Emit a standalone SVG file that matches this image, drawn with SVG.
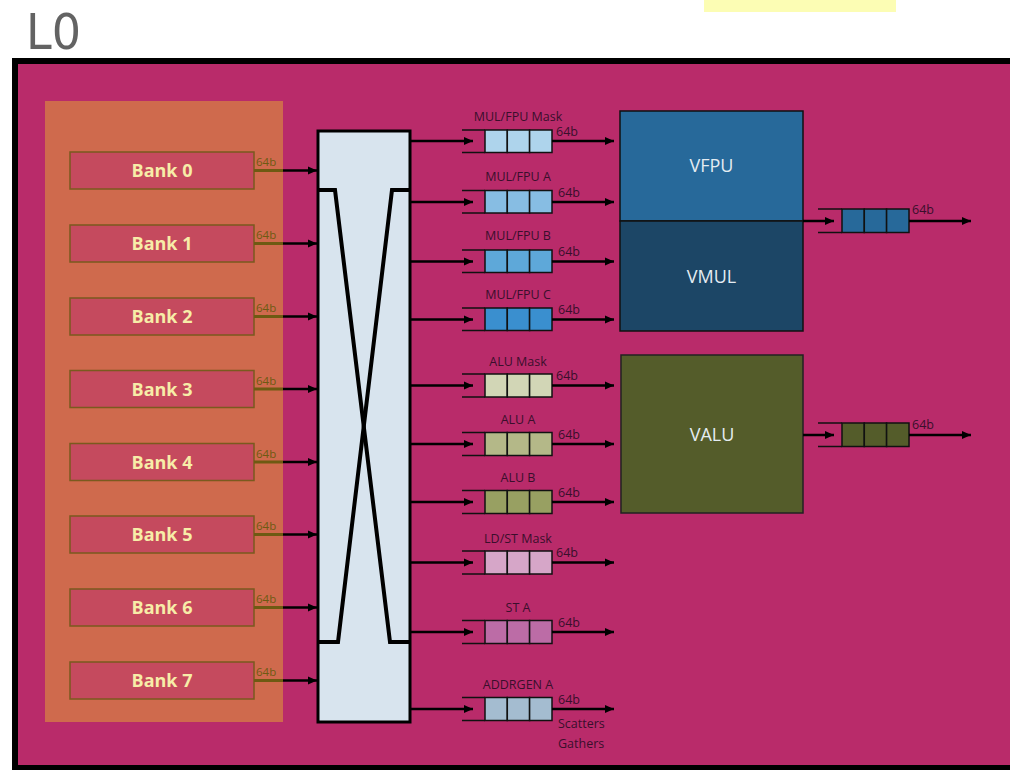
<svg xmlns="http://www.w3.org/2000/svg" width="1010" height="770" viewBox="0 0 1010 770">
<style>
.bank rect{fill:#C54A5E;stroke:#7A5A1E;stroke-width:1.5}
.bank text{font-family:"Open Sans","Liberation Sans",sans-serif;font-weight:bold;font-size:18px;fill:#F7EDA8;text-anchor:middle}
.b64{font-family:"Open Sans","Liberation Sans",sans-serif;font-size:11.5px;fill:#6E5A12}
.ql{font-family:"Open Sans","Liberation Sans",sans-serif;font-size:12.5px;fill:#3A0F2C;text-anchor:middle}
.q64{font-family:"Open Sans","Liberation Sans",sans-serif;font-size:12.5px;fill:#3A0F2C}
.cell{stroke:#111;stroke-width:1.5}
.arr{stroke:#000;stroke-width:2.5;fill:none;marker-end:url(#ah)}
.thin{stroke:#111;stroke-width:1.5;fill:none}
.unit text{font-family:"Open Sans","Liberation Sans",sans-serif;font-size:18px;fill:#E4ECF2;text-anchor:middle}
</style>
<defs>
<marker id="ah" markerUnits="userSpaceOnUse" markerWidth="10" markerHeight="10" refX="9" refY="5" orient="auto">
<path d="M0,1 L9,5 L0,9 z" fill="#000"/>
</marker>
</defs>
<rect x="0" y="0" width="1010" height="770" fill="#fff"/>
<rect x="704" y="0" width="192" height="12" fill="#FCFDB4"/>
<text x="26" y="49" font-family="DejaVu Sans, Open Sans, sans-serif" font-size="50" fill="#636363" textLength="55" lengthAdjust="spacingAndGlyphs">L0</text>
<rect x="15" y="61" width="1000" height="707" fill="#B92B6A" stroke="#000" stroke-width="6"/>
<rect id="bankpanel" x="45" y="101" width="238" height="621" fill="#CF6A4D"/>

<g id="bank0" class="bank"><rect x="70" y="152" width="184" height="37"/><text x="162" y="177">Bank 0</text></g>
<g id="bank1" class="bank"><rect x="70" y="225" width="184" height="37"/><text x="162" y="250">Bank 1</text></g>
<g id="bank2" class="bank"><rect x="70" y="298" width="184" height="37"/><text x="162" y="323">Bank 2</text></g>
<g id="bank3" class="bank"><rect x="70" y="370.5" width="184" height="37"/><text x="162" y="395.5">Bank 3</text></g>
<g id="bank4" class="bank"><rect x="70" y="443.5" width="184" height="37"/><text x="162" y="468.5">Bank 4</text></g>
<g id="bank5" class="bank"><rect x="70" y="516" width="184" height="37"/><text x="162" y="541">Bank 5</text></g>
<g id="bank6" class="bank"><rect x="70" y="589" width="184" height="37"/><text x="162" y="614">Bank 6</text></g>
<g id="bank7" class="bank"><rect x="70" y="662" width="184" height="37"/><text x="162" y="687">Bank 7</text></g>

<g id="crossbar">
<rect x="318" y="131" width="92" height="591" fill="#D8E4EE" stroke="#000" stroke-width="3"/>
<polyline points="318,190 335,190 390,642 410,642" fill="none" stroke="#000" stroke-width="4"/>
<polyline points="410,190 392,190 338,642 318,642" fill="none" stroke="#000" stroke-width="4"/>
</g>

<g id="q0">
<text class="ql" x="518" y="121">MUL/FPU Mask</text>
<path class="thin" d="M462,130 H485 M462,152.5 H485"/>
<rect class="cell" x="485" y="130" width="22.3" height="22.5" fill="#AED4EC"/><rect class="cell" x="507.3" y="130" width="22.3" height="22.5" fill="#AED4EC"/><rect class="cell" x="529.6" y="130" width="22.4" height="22.5" fill="#AED4EC"/>
<text class="q64" x="556" y="136">64b</text>
</g>
<g id="q1">
<text class="ql" x="518" y="181">MUL/FPU A</text>
<path class="thin" d="M462,190.5 H485 M462,213 H485"/>
<rect class="cell" x="485" y="190.5" width="22.3" height="22.5" fill="#87BDE3"/><rect class="cell" x="507.3" y="190.5" width="22.3" height="22.5" fill="#87BDE3"/><rect class="cell" x="529.6" y="190.5" width="22.4" height="22.5" fill="#87BDE3"/>
<text class="q64" x="558" y="197">64b</text>
</g>
<g id="q2">
<text class="ql" x="518" y="240">MUL/FPU B</text>
<path class="thin" d="M462,250 H485 M462,272.5 H485"/>
<rect class="cell" x="485" y="250" width="22.3" height="22.5" fill="#5EA8D9"/><rect class="cell" x="507.3" y="250" width="22.3" height="22.5" fill="#5EA8D9"/><rect class="cell" x="529.6" y="250" width="22.4" height="22.5" fill="#5EA8D9"/>
<text class="q64" x="558" y="256">64b</text>
</g>
<g id="q3">
<text class="ql" x="518" y="299">MUL/FPU C</text>
<path class="thin" d="M462,308 H485 M462,330.5 H485"/>
<rect class="cell" x="485" y="308" width="22.3" height="22.5" fill="#3A8FCF"/><rect class="cell" x="507.3" y="308" width="22.3" height="22.5" fill="#3A8FCF"/><rect class="cell" x="529.6" y="308" width="22.4" height="22.5" fill="#3A8FCF"/>
<text class="q64" x="558" y="314">64b</text>
</g>
<g id="q4">
<text class="ql" x="518" y="366">ALU Mask</text>
<path class="thin" d="M462,374 H485 M462,397 H485"/>
<rect class="cell" x="485" y="374" width="22.3" height="23" fill="#D2D6B6"/><rect class="cell" x="507.3" y="374" width="22.3" height="23" fill="#D2D6B6"/><rect class="cell" x="529.6" y="374" width="22.4" height="23" fill="#D2D6B6"/>
<text class="q64" x="556" y="380">64b</text>
</g>
<g id="q5">
<text class="ql" x="518" y="424">ALU A</text>
<path class="thin" d="M462,432.5 H485 M462,455.5 H485"/>
<rect class="cell" x="485" y="432.5" width="22.3" height="23" fill="#B4B888"/><rect class="cell" x="507.3" y="432.5" width="22.3" height="23" fill="#B4B888"/><rect class="cell" x="529.6" y="432.5" width="22.4" height="23" fill="#B4B888"/>
<text class="q64" x="558" y="439">64b</text>
</g>
<g id="q6">
<text class="ql" x="518" y="482">ALU B</text>
<path class="thin" d="M462,490.5 H485 M462,513.5 H485"/>
<rect class="cell" x="485" y="490.5" width="22.3" height="23" fill="#98A062"/><rect class="cell" x="507.3" y="490.5" width="22.3" height="23" fill="#98A062"/><rect class="cell" x="529.6" y="490.5" width="22.4" height="23" fill="#98A062"/>
<text class="q64" x="558" y="497">64b</text>
</g>
<g id="q7">
<text class="ql" x="518" y="543">LD/ST Mask</text>
<path class="thin" d="M462,551 H485 M462,574 H485"/>
<rect class="cell" x="485" y="551" width="22.3" height="23" fill="#D6A6C8"/><rect class="cell" x="507.3" y="551" width="22.3" height="23" fill="#D6A6C8"/><rect class="cell" x="529.6" y="551" width="22.4" height="23" fill="#D6A6C8"/>
<text class="q64" x="556" y="557">64b</text>
</g>
<g id="q8">
<text class="ql" x="518" y="612">ST A</text>
<path class="thin" d="M462,620.5 H485 M462,643.5 H485"/>
<rect class="cell" x="485" y="620.5" width="22.3" height="23" fill="#BC6CA6"/><rect class="cell" x="507.3" y="620.5" width="22.3" height="23" fill="#BC6CA6"/><rect class="cell" x="529.6" y="620.5" width="22.4" height="23" fill="#BC6CA6"/>
<text class="q64" x="558" y="627">64b</text>
</g>
<g id="q9">
<text class="ql" x="518" y="689">ADDRGEN A</text>
<path class="thin" d="M462,697.5 H485 M462,720.5 H485"/>
<rect class="cell" x="485" y="697.5" width="22.3" height="23" fill="#A4BCD0"/><rect class="cell" x="507.3" y="697.5" width="22.3" height="23" fill="#A4BCD0"/><rect class="cell" x="529.6" y="697.5" width="22.4" height="23" fill="#A4BCD0"/>
<text class="q64" x="558" y="704">64b</text>
<text class="q64" x="558" y="728">Scatters</text>
<text class="q64" x="558" y="748">Gathers</text>
</g>

<g id="vfpu" class="unit">
<rect x="620" y="111" width="183" height="110" fill="#27699A" stroke="#111" stroke-width="1.5"/>
<text x="711.5" y="172">VFPU</text>
</g>
<g id="vmul" class="unit">
<rect x="620" y="221" width="183" height="110" fill="#1C4666" stroke="#111" stroke-width="1.5"/>
<text x="711.5" y="283">VMUL</text>
</g>
<g id="valu" class="unit">
<rect x="621" y="355" width="182" height="158" fill="#545C2A" stroke="#222" stroke-width="1.5"/>
<text x="712" y="441">VALU</text>
</g>

<g id="qvf">
<path class="thin" d="M818,209 H842 M818,232.5 H842"/>
<rect class="cell" x="842" y="209" width="22.3" height="23.5" fill="#27699A"/><rect class="cell" x="864.3" y="209" width="22.3" height="23.5" fill="#27699A"/><rect class="cell" x="886.6" y="209" width="22.4" height="23.5" fill="#27699A"/>
<text class="q64" x="912" y="214" font-size="11">64b</text>
</g>
<g id="qva">
<path class="thin" d="M818,423 H842 M818,446.5 H842"/>
<rect class="cell" x="842" y="423" width="22.3" height="23.5" fill="#545C2A"/><rect class="cell" x="864.3" y="423" width="22.3" height="23.5" fill="#545C2A"/><rect class="cell" x="886.6" y="423" width="22.4" height="23.5" fill="#545C2A"/>
<text class="q64" x="912" y="429" font-size="11">64b</text>
</g>

<g id="bank-labels">
<text class="b64" x="256" y="166">64b</text>
<text class="b64" x="256" y="239">64b</text>
<text class="b64" x="256" y="312">64b</text>
<text class="b64" x="256" y="384.5">64b</text>
<text class="b64" x="256" y="457.5">64b</text>
<text class="b64" x="256" y="530">64b</text>
<text class="b64" x="256" y="603">64b</text>
<text class="b64" x="256" y="676">64b</text>
</g>

<g id="connectors">
<g stroke="#6E5A12" stroke-width="3">
<path d="M254,170.5 H283 M254,243.5 H283 M254,316.5 H283 M254,389 H283 M254,462 H283 M254,534.5 H283 M254,607.5 H283 M254,680.5 H283"/>
</g>
<path class="arr" d="M283,170.5 H317"/>
<path class="arr" d="M283,243.5 H317"/>
<path class="arr" d="M283,316.5 H317"/>
<path class="arr" d="M283,389 H317"/>
<path class="arr" d="M283,462 H317"/>
<path class="arr" d="M283,534.5 H317"/>
<path class="arr" d="M283,607.5 H317"/>
<path class="arr" d="M283,680.5 H317"/>

<path class="arr" d="M411,141 H473"/>
<path class="arr" d="M411,202 H473"/>
<path class="arr" d="M411,261.5 H473"/>
<path class="arr" d="M411,319.5 H473"/>
<path class="arr" d="M411,385.5 H473"/>
<path class="arr" d="M411,444 H473"/>
<path class="arr" d="M411,502 H473"/>
<path class="arr" d="M411,562.5 H473"/>
<path class="arr" d="M411,632 H473"/>
<path class="arr" d="M411,709 H473"/>

<path class="arr" d="M552,141 H614"/>
<path class="arr" d="M552,202 H614"/>
<path class="arr" d="M552,261.5 H614"/>
<path class="arr" d="M552,319.5 H614"/>
<path class="arr" d="M552,385.5 H614"/>
<path class="arr" d="M552,444 H614"/>
<path class="arr" d="M552,502 H614"/>
<path class="arr" d="M552,562.5 H614"/>
<path class="arr" d="M552,632 H614"/>
<path class="arr" d="M552,709 H614"/>

<path class="arr" d="M803,221 H834"/>
<path class="arr" d="M909,221 H971"/>
<path class="arr" d="M803,435 H834"/>
<path class="arr" d="M909,435 H971"/>
</g>
</svg>
